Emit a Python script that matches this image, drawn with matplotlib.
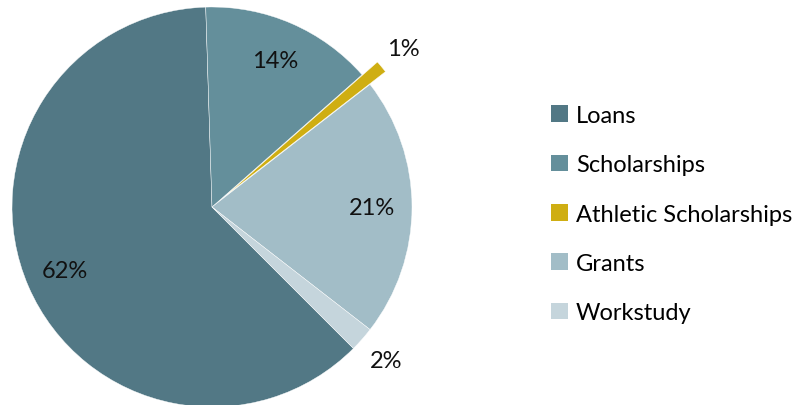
import numpy as np
import matplotlib.pyplot as plt
from matplotlib.patches import Patch

plt.rcParams['font.family'] = ['Lato', 'DejaVu Sans']

labels = ["Loans", "Scholarships", "Athletic Scholarships", "Grants", "Workstudy"]
shares = [62, 14, 1, 21, 2]
colors = ["#527885", "#648f9b", "#cfae12", "#a2bdc7", "#c5d5dc"]
explode = [0, 0, 0.1, 0, 0]

fig = plt.figure(figsize=(8.07, 4.06), dpi=100)
ax = fig.add_axes([12/807, -2/406, 400/807, 400/406])

wedges, texts, autotexts = ax.pie(shares, colors=colors, explode=explode,
                                  startangle=-45, counterclock=False,
                                  autopct='%d%%', pctdistance=0.8,
                                  wedgeprops=dict(edgecolor='white', linewidth=0.3),
                                  textprops=dict(fontsize=17, color='#111111'))

# the two small slices get their labels outside
outside = {2: 1.24, 4: 1.16}
for i, d in outside.items():
    w = wedges[i]
    ang = np.deg2rad((w.theta1 + w.theta2) / 2)
    autotexts[i].set_position((d * np.cos(ang), d * np.sin(ang)))

ax.set_xlim(-1, 1)
ax.set_ylim(-1, 1)
ax.set_aspect('equal')
ax.axis('off')

handles = [Patch(facecolor=c, edgecolor='none') for c in colors]
fig.legend(handles, labels, loc='center left', bbox_to_anchor=(530/807, 0.47),
           frameon=False, fontsize=17, handlelength=0.7, handleheight=0.7,
           handletextpad=0.35, labelspacing=1.2)

fig.savefig("out.png", dpi=100)
